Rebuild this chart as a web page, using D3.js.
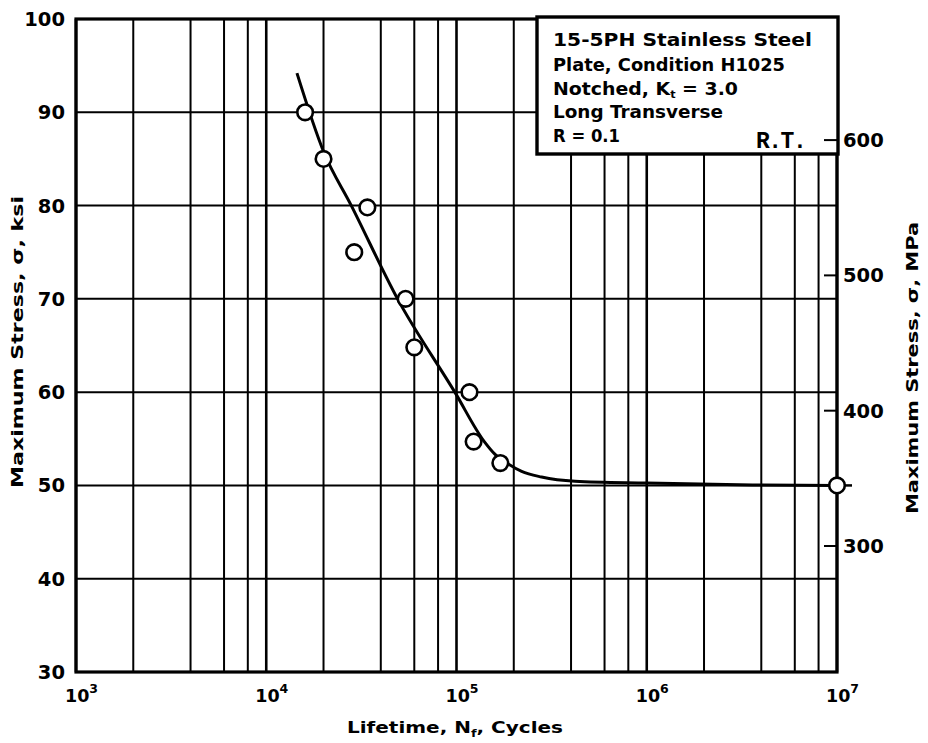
<!DOCTYPE html>
<html>
<head>
<meta charset="utf-8">
<script src="https://cdn.jsdelivr.net/npm/d3@7"></script>
<style>
  html, body { margin: 0; padding: 0; background: #fff; }
  svg { display: block; }
  text { font-family: "DejaVu Sans", sans-serif; font-weight: bold; fill: #000; }
  text.typed { font-family: "Liberation Mono", "DejaVu Sans Mono", monospace; font-weight: bold; letter-spacing: -1.5px; }
</style>
</head>
<body>
<svg id="chart" width="928" height="743"></svg>
<script>
// Fatigue test results: cycles to failure vs. maximum stress (ksi)
const lifeCycles = [1.6e4, 2.0e4, 2.9e4, 3.4e4, 5.4e4, 6.0e4, 1.17e5, 1.23e5, 1.7e5, 1.0e7];
const maxStressKsi = [90, 85, 75, 79.8, 70, 64.8, 60, 54.7, 52.4, 50];

// Faired S-N curve
const curveCycles = [1.45e4, 2.0e4, 2.8e4, 4.9e4, 9.8e4, 1.4e5, 1.6e5, 1.87e5, 2.2e5, 2.8e5, 4.2e5, 1.0e6, 3.6e6, 1.0e7];
const curveKsi    = [94.2,   85.8,  80.0,  70.0,  60.0,  54.7,  53.3,  52.3,   51.5,  50.9,  50.45, 50.25, 50.05, 50.0];

// Axis ticks
const ksiTicks = [30, 40, 50, 60, 70, 80, 90, 100];
const mpaTicks = [300, 400, 500, 600];
const decadeExponents = [3, 4, 5, 6, 7];
const gridMultipliers = [2, 4, 6, 8];

const legendLines = [
  ["15-5PH Stainless Steel"],
  ["Plate, Condition H1025"],
  ["Notched, K", {sub: "t"}, " = 3.0"],
  ["Long Transverse"],
  ["R = 0.1"]
];
const KSI_TO_MPA = 6.895;

const svg = d3.select("#chart");
const plotL = 76, plotR = 837, plotT = 19, plotB = 672;

const x = d3.scaleLog().domain([1e3, 1e7]).range([plotL, plotR]);
const y = d3.scaleLinear().domain([30, 100]).range([plotB, plotT]);
const yMpa = d3.scaleLinear().domain([30 * KSI_TO_MPA, 100 * KSI_TO_MPA]).range([plotB, plotT]);

// Grid: vertical lines at 2,4,6,8 and each decade
const gridX = [];
decadeExponents.forEach(e => {
  gridX.push(Math.pow(10, e));
  if (e < 7) gridMultipliers.forEach(m => gridX.push(m * Math.pow(10, e)));
});
const isDecade = d => Math.abs(Math.log10(d) - Math.round(Math.log10(d))) < 1e-9;
const grid = svg.append("g").attr("stroke", "#000").attr("stroke-width", 2);
grid.selectAll("line.v").data(gridX).join("line")
  .attr("class", "v")
  .attr("x1", d => x(d)).attr("x2", d => x(d))
  .attr("y1", plotT).attr("y2", plotB)
  .attr("stroke-width", d => isDecade(d) ? 2.6 : 2);
grid.selectAll("line.h").data(ksiTicks).join("line")
  .attr("class", "h")
  .attr("x1", plotL).attr("x2", plotR)
  .attr("y1", d => y(d)).attr("y2", d => y(d));

// Frame
svg.append("rect")
  .attr("x", plotL).attr("y", plotT)
  .attr("width", plotR - plotL).attr("height", plotB - plotT)
  .attr("fill", "none").attr("stroke", "#000").attr("stroke-width", 3.2);

// Legend box (covers grid)
const box = {x0: 537, y0: 17, x1: 838, y1: 154};
svg.append("rect")
  .attr("x", box.x0).attr("y", box.y0)
  .attr("width", box.x1 - box.x0).attr("height", box.y1 - box.y0)
  .attr("fill", "#fff").attr("stroke", "#000").attr("stroke-width", 3.4);

const legendBaselines = [46, 71, 95, 118, 142];
const legendWidths = [259, 232, 185, 170, 67];
legendLines.forEach((parts, i) => {
  const t = svg.append("text")
    .attr("x", 553).attr("y", legendBaselines[i])
    .attr("font-size", 18.5)
    .attr("textLength", legendWidths[i])
    .attr("lengthAdjust", "spacingAndGlyphs");
  let shift = 0;
  parts.forEach(p => {
    if (typeof p === "string") {
      t.append("tspan").attr("dy", -shift).text(p);
      shift = 0;
    } else {
      t.append("tspan").attr("dy", 3).attr("font-size", 11).text(p.sub);
      shift = 3;
    }
  });
});
svg.append("text")
  .attr("class", "typed")
  .attr("x", 756).attr("y", 148)
  .attr("font-size", 23)
  .text("R.T.");

// Left axis labels (ksi)
svg.append("g").selectAll("text").data(ksiTicks).join("text")
  .attr("x", 65).attr("y", d => y(d))
  .attr("dy", "0.36em")
  .attr("text-anchor", "end")
  .attr("font-size", 19.5)
  .text(d => d);

// Right axis: MPa ticks (inward) and labels
const mpaAxis = svg.append("g");
mpaAxis.selectAll("line").data(mpaTicks).join("line")
  .attr("x1", plotR - 13).attr("x2", plotR)
  .attr("y1", d => yMpa(d)).attr("y2", d => yMpa(d))
  .attr("stroke", "#000").attr("stroke-width", 2);
mpaAxis.selectAll("text").data(mpaTicks).join("text")
  .attr("x", 843).attr("y", d => yMpa(d))
  .attr("dy", "0.36em")
  .attr("font-size", 19.5)
  .text(d => d);

// Bottom axis labels: powers of ten
const xl = svg.append("g").selectAll("text").data(decadeExponents).join("text")
  .attr("x", d => x(Math.pow(10, d)) - 11)
  .attr("y", 702)
  .attr("font-size", 17.5);
xl.append("tspan").text("10");
xl.append("tspan").attr("dy", -9).attr("font-size", 12.5).text(d => d);

// Axis titles
svg.append("text")
  .attr("x", 347).attr("y", 733)
  .attr("font-size", 15.5)
  .attr("textLength", 216).attr("lengthAdjust", "spacingAndGlyphs")
  .call(t => {
    t.append("tspan").text("Lifetime, N");
    t.append("tspan").attr("dy", 4).attr("font-size", 10).text("f");
    t.append("tspan").attr("dy", -4).text(", Cycles");
  });

svg.append("text")
  .attr("transform", "translate(23,488) rotate(-90)")
  .attr("font-size", 15.5)
  .attr("textLength", 292).attr("lengthAdjust", "spacingAndGlyphs")
  .text("Maximum Stress, σ, ksi");

svg.append("text")
  .attr("transform", "translate(918,514) rotate(-90)")
  .attr("font-size", 15.5)
  .attr("textLength", 292).attr("lengthAdjust", "spacingAndGlyphs")
  .text("Maximum Stress, σ, MPa");

// S-N curve
const curveData = curveCycles.map((c, i) => [c, curveKsi[i]]);
const line = d3.line()
  .x(d => x(d[0])).y(d => y(d[1]))
  .curve(d3.curveMonotoneX);
svg.append("path")
  .datum(curveData)
  .attr("d", line)
  .attr("fill", "none").attr("stroke", "#000").attr("stroke-width", 3);

// Runout stub beyond the last point
const last = curveData[curveData.length - 1];
svg.append("line")
  .attr("x1", x(last[0])).attr("x2", x(last[0]) + 15)
  .attr("y1", y(last[1])).attr("y2", y(last[1]))
  .attr("stroke", "#000").attr("stroke-width", 2.5);

// Test points
svg.append("g").selectAll("circle").data(lifeCycles.map((c, i) => [c, maxStressKsi[i]])).join("circle")
  .attr("cx", d => x(d[0])).attr("cy", d => y(d[1]))
  .attr("r", 7.8)
  .attr("fill", "#fff").attr("stroke", "#000").attr("stroke-width", 2.6);
</script>
</body>
</html>
